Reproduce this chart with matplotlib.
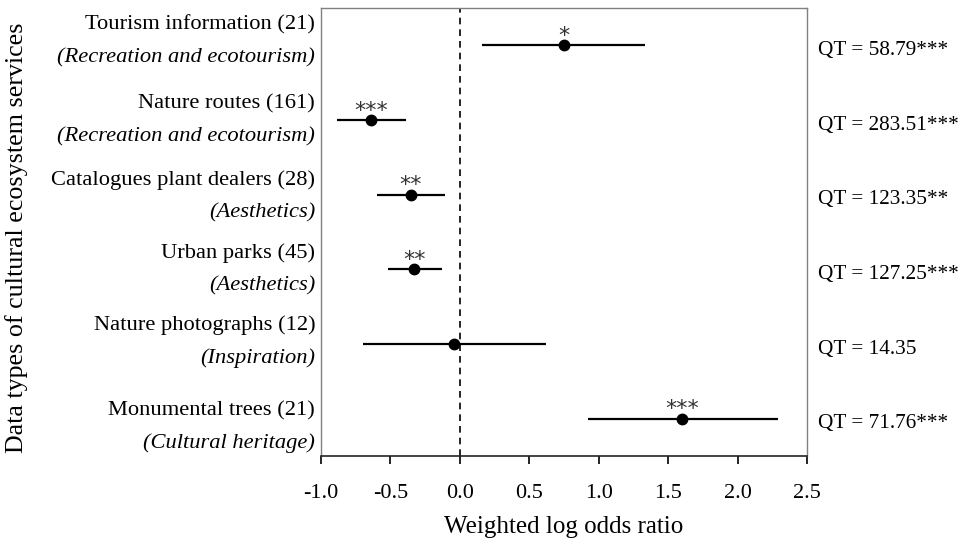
import matplotlib.pyplot as plt

plt.rcParams['font.family'] = ['Liberation Serif', 'DejaVu Serif']

# data
names = ["Tourism information (21)", "Nature routes (161)", "Catalogues plant dealers (28)",
         "Urban parks (45)", "Nature photographs (12)", "Monumental trees (21)"]
services = ["(Recreation and ecotourism)", "(Recreation and ecotourism)", "(Aesthetics)",
            "(Aesthetics)", "(Inspiration)", "(Cultural heritage)"]
estimate = [0.75, -0.64, -0.355, -0.33, -0.04, 1.60]
ci_low = [0.16, -0.885, -0.60, -0.52, -0.695, 0.92]
ci_high = [1.33, -0.39, -0.11, -0.13, 0.62, 2.29]
signif = ["*", "***", "**", "**", "", "***"]
qt_labels = ["QT = 58.79***", "QT = 283.51***", "QT = 123.35**",
             "QT = 127.25***", "QT = 14.35", "QT = 71.76***"]

# small vertical nudges of the left labels (layout only)
label_shift = [-0.05, 0.0, 0.03, 0.0, -0.03, 0.11]

fig = plt.figure(figsize=(9.66, 5.45), dpi=100)
ax = fig.add_axes([0.3323, 0.1633, 0.5031, 0.822])

rows = list(range(1, len(names) + 1))

for i, y in enumerate(rows):
    ax.plot([ci_low[i], ci_high[i]], [y, y], color='black', lw=1.6, solid_capstyle='butt', zorder=2)
    ax.plot(estimate[i], y, 'o', color='black', markersize=7.5, zorder=3)
    if signif[i]:
        ax.text(estimate[i], y - 0.045, signif[i], ha='center', va='baseline', color='#333333',
                fontsize=16, family='DejaVu Sans')
    # labels on the left
    ax.text(-0.012, y - 0.22 + label_shift[i], names[i], transform=ax.get_yaxis_transform(),
            ha='right', va='center', fontsize=16.2)
    ax.text(-0.012, y + 0.22 + label_shift[i], services[i], transform=ax.get_yaxis_transform(),
            ha='right', va='center', fontsize=16.2, style='italic')
    # QT statistics on the right
    ax.text(1.022, y + 0.07, qt_labels[i], transform=ax.get_yaxis_transform(),
            ha='left', va='center', fontsize=15.3)

ax.axvline(0, color='black', lw=1.2, ls=(0, (4, 3)), zorder=1)

ax.set_xlim(-1.0, 2.5)
ax.set_ylim(6.5, 0.5)
ax.set_xticks([-1.0, -0.5, 0.0, 0.5, 1.0, 1.5, 2.0, 2.5])
ax.set_xticklabels(["-1.0", "-0.5", "0.0", "0.5", "1.0", "1.5", "2.0", "2.5"], fontsize=16)
ax.set_yticks([])
ax.tick_params(axis='x', direction='out', length=6, width=1.2, pad=14.5, color='black')

for side in ['top', 'right', 'left']:
    ax.spines[side].set_color('#808080')
    ax.spines[side].set_linewidth(1.0)
ax.spines['bottom'].set_color('#222222')
ax.spines['bottom'].set_linewidth(1.2)

ax.set_xlabel("Weighted log odds ratio", fontsize=18, labelpad=9)
fig.text(0.017, 0.563, "Data types of cultural ecosystem services", rotation=90,
         ha='center', va='center', fontsize=18.7)

fig.savefig("out.png", dpi=100)
